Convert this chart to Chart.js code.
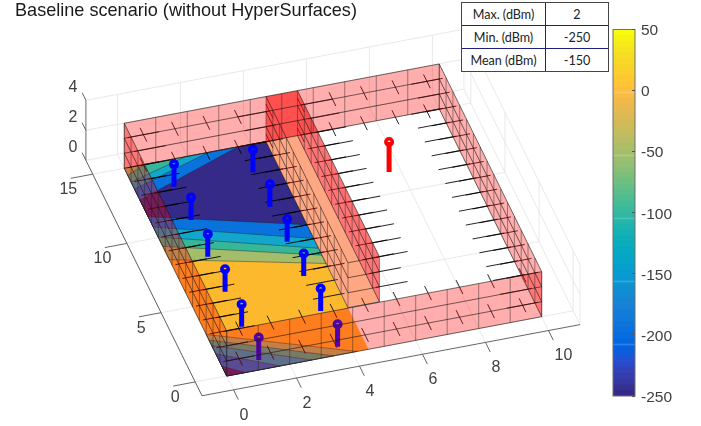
<!DOCTYPE html>
<html>
<head>
<meta charset="utf-8">
<script src="https://cdn.jsdelivr.net/npm/chart.js@4"></script>
<style>
  body { margin: 0; background: #fff; width: 701px; height: 426px; overflow: hidden; position: relative; }
  canvas { position: absolute; }
  #title { position: absolute; left: 15px; top: 0px; font: 18.1px "Liberation Sans", Arial, sans-serif; color: #1a1a1a; white-space: nowrap; }
  #stats { position: absolute; left: 461px; top: 2px; width: 148px; height: 67px; border-collapse: collapse; table-layout: fixed;
           font: 12.6px Lato, sans-serif; color: #222; text-align: center; background: #fff; outline: 1px solid #444; outline-offset: -1px; }
  #stats td { border: 1px solid #1f1f80; padding: 0; height: 22px; }
</style>
</head>
<body>
<canvas id="scene" width="701" height="426" style="left:0;top:0"></canvas>
<canvas id="cbar" width="85" height="386" style="left:610px;top:20px"></canvas>
<div id="title">Baseline scenario (without HyperSurfaces)</div>
<table id="stats">
  <colgroup><col style="width:84px"><col></colgroup>
  <tr><td>Max. (dBm)</td><td>2</td></tr>
  <tr><td>Min. (dBm)</td><td>-250</td></tr>
  <tr><td>Mean (dBm)</td><td>-150</td></tr>
</table>
<script>
// axis ticks
let xTicks = [0, 2, 4, 6, 8, 10];
let yTicks = [0, 5, 10, 15];
let zTicks = [0, 2, 4];
let cbarTicks = [-250, -200, -150, -100, -50, 0, 50];

// room, metres
let roomX = 10, roomY = 15, wallZ = 3;
let partA = 4.5, partB = 5.5, partY = 3;

// antennas, blue ones then the red one
let rxX = [1.16, 1.14, 1.16, 1.16, 1.2, 1.18, 3.64, 3.66, 3.67, 3.68, 3.68, 3.68];
let rxY = [0.66, 3.07, 5.59, 8.12, 10.75, 13.16, 0.55, 3.12, 5.65, 8.12, 10.65, 13.13];
let rxZ = 1.5;
let txX = [7.64], txY = [11.46], txZ = 2;

// level colours of the floor map
let cDark = '#352a87', cBlue = '#0a72dc', cTeal = '#12a6cc', cGreen = '#37b79a', cSage = '#a3bd6a', cYellow = '#fdb92e';

// floor map regions [x, y], painted in this order
let floorBase = [[0, 0], [4.5, 0], [4.5, 15], [0, 15]];
let farSage = [[0, 8.4], [4.5, 6.2], [4.5, 15], [0, 15]];
let farGreen = [[0, 9.36], [4.5, 6.8], [4.5, 15], [0.65, 15], [0, 14.5]];
let farTeal = [[0, 10.03], [4.5, 7.3], [4.5, 15], [1.95, 15], [0, 14]];
let farBlue = [[0, 10.75], [4.5, 8.0], [4.5, 15], [2.67, 15], [0, 13.5]];
let farDark = [[0, 11.5], [4.5, 9.0], [4.5, 15], [3.6, 15], [0, 12.7]];
let nearSage = [[0, 3], [4, 0.1], [4.14, 0], [0, 0]];
let nearGreen = [[0, 2.6], [3.4, 0], [0, 0]];
let nearTeal = [[0, 2.2], [2.7, 0], [0, 0]];
let nearBlue = [[0, 1.6], [1.7, 0], [0, 0]];
let nearDark = [[0, 0.7], [0.6, 0], [0, 0]];

// parula, bottom of the colour bar first
let cbarColors = [
  [.2081,.1663,.5292],[.2116,.1898,.5777],[.2123,.2138,.6270],[.2081,.2386,.6771],[.1959,.2645,.7279],[.1707,.2919,.7792],
  [.1253,.3242,.8303],[.0591,.3598,.8683],[.0117,.3875,.8820],[.0060,.4086,.8828],[.0165,.4266,.8786],[.0329,.4430,.8720],
  [.0498,.4586,.8641],[.0629,.4737,.8554],[.0723,.4887,.8467],[.0779,.5040,.8384],[.0793,.5200,.8312],[.0749,.5375,.8263],
  [.0641,.5570,.8240],[.0488,.5772,.8228],[.0343,.5966,.8199],[.0265,.6137,.8135],[.0239,.6287,.8038],[.0231,.6418,.7913],
  [.0228,.6535,.7768],[.0267,.6642,.7607],[.0384,.6743,.7436],[.0590,.6838,.7254],[.0843,.6928,.7062],[.1133,.7015,.6859],
  [.1453,.7098,.6646],[.1801,.7177,.6424],[.2178,.7250,.6193],[.2586,.7317,.5954],[.3022,.7376,.5712],[.3482,.7424,.5473],
  [.3953,.7459,.5244],[.4420,.7481,.5033],[.4871,.7491,.4840],[.5300,.7491,.4661],[.5709,.7485,.4494],[.6099,.7473,.4337],
  [.6473,.7456,.4188],[.6834,.7435,.4044],[.7184,.7411,.3905],[.7525,.7384,.3768],[.7858,.7356,.3633],[.8185,.7327,.3498],
  [.8507,.7299,.3360],[.8824,.7274,.3217],[.9139,.7258,.3063],[.9450,.7261,.2886],[.9739,.7314,.2666],[.9938,.7455,.2403],
  [.9990,.7653,.2164],[.9955,.7861,.1967],[.9880,.8066,.1794],[.9789,.8271,.1633],[.9697,.8481,.1475],[.9626,.8705,.1309],
  [.9589,.8949,.1132],[.9598,.9218,.0948],[.9661,.9514,.0755],[.9763,.9831,.0538]
];

// orthographic view of the room, screen pixels per metre
function project(x, y, z) {
  return { x: 226.7 + 31.5 * x - 6.83 * y, y: 376 - 5.93 * x - 13.85 * y - 15 * z };
}

let datasets = [];
function addPoly(pts, fill, edge) {
  let d = pts.map(p => project(p[0], p[1], p[2] || 0));
  d.push(d[0]);
  datasets.push({ data: d, showLine: true, pointRadius: 0, fill: 'shape', backgroundColor: fill,
    borderColor: edge || 'rgba(0,0,0,0)', borderWidth: edge ? 0.6 : 0, tension: 0 });
}
function addLines(segs, color, width) {
  let d = [];
  segs.forEach(s => {
    d.push(project(s[0], s[1], s[2]), project(s[3], s[4], s[5]), { x: NaN, y: NaN });
  });
  datasets.push({ data: d, showLine: true, pointRadius: 0, fill: false, borderColor: color, borderWidth: width, tension: 0, spanGaps: false });
}

// background box
let gridSegs = [];
xTicks.forEach(x => {
  gridSegs.push([x, -1, 0, x, 16, 0], [x, 16, 0, x, 16, 4]);
});
yTicks.forEach(y => {
  gridSegs.push([-1, y, 0, 11, y, 0], [11, y, 0, 11, y, 4]);
});
zTicks.forEach(z => {
  gridSegs.push([-1, 16, z, 11, 16, z], [11, 16, z, 11, -1, z]);
});
gridSegs.push([11, 16, 0, 11, 16, 4], [11, -1, 0, 11, -1, 4], [-1, 16, 0, -1, -1, 0]);
addLines(gridSegs, '#e6e6e6', 0.9);

let axisSegs = [[-1, -1, 0, 11, -1, 0], [-1, -1, 0, -1, 16, 0], [-1, 16, 0, -1, 16, 4]];
xTicks.forEach(x => axisSegs.push([x, -1, 0, x, -1.7, 0]));
yTicks.forEach(y => axisSegs.push([-1, y, 0, -1.7, y, 0]));
zTicks.forEach(z => axisSegs.push([-1, 16, z, -1, 16.55, z]));
addLines(axisSegs, '#555', 0.9);

// floor map
addPoly(floorBase, cYellow);
addPoly(farSage, cSage, 'rgba(30,30,30,.7)');
addPoly(farGreen, cGreen, 'rgba(30,30,30,.7)');
addPoly(farTeal, cTeal, 'rgba(30,30,30,.7)');
addPoly(farBlue, cBlue, 'rgba(30,30,30,.7)');
addPoly(farDark, cDark, 'rgba(30,30,30,.7)');
addPoly(nearSage, cSage, 'rgba(30,30,30,.7)');
addPoly(nearGreen, cGreen, 'rgba(30,30,30,.7)');
addPoly(nearTeal, cTeal, 'rgba(30,30,30,.7)');
addPoly(nearBlue, cBlue, 'rgba(30,30,30,.7)');
addPoly(nearDark, cDark, 'rgba(30,30,30,.7)');
addPoly([[partA, partY], [partB, partY], [partB, roomY], [partA, roomY]], '#fff6c2');

// short strokes sticking out of the walls
let strokes = [];
[0.5, 2.5].forEach(z => {
  for (let k = 0; k < roomX; k++) {
    strokes.push([k + 0.5, 0, z, k + 0.5, 1, z], [k + 0.5, roomY - 1, z, k + 0.5, roomY, z]);
  }
  for (let k = 0; k < roomY; k++) {
    strokes.push([0, k + 0.5, z, 1, k + 0.5, z], [roomX - 1, k + 0.5, z, roomX, k + 0.5, z]);
    if (k >= partY) {
      strokes.push([partA - 1, k + 0.5, z, partA, k + 0.5, z], [partB, k + 0.5, z, partB + 1, k + 0.5, z]);
    }
  }
});
addLines(strokes, 'rgba(0,0,0,.95)', 0.9);

// antennas
function addAntennas(xs, ys, h, color) {
  addLines(xs.map((x, i) => [x, ys[i], 0, x, ys[i], h]), color, 5);
  datasets.push({ data: xs.map((x, i) => project(x, ys[i], h)), showLine: false, pointRadius: 3.2, pointBorderWidth: 3.6,
    pointBorderColor: color, pointBackgroundColor: 'rgba(0,0,0,0)' });
}
addAntennas(rxX, rxY, rxZ, '#0000ff');
addAntennas(txX, txY, txZ, '#ff0000');

// translucent walls
let pink = 'rgba(255,0,0,0.32)';
function wallX(x, y0, y1) {
  addPoly([[x, y0, 0], [x, y1, 0], [x, y1, wallZ], [x, y0, wallZ]], pink);
}
function wallY(y, x0, x1) {
  addPoly([[x0, y, 0], [x1, y, 0], [x1, y, wallZ], [x0, y, wallZ]], pink);
}
wallY(roomY, 0, roomX);
wallX(roomX, 0, roomY);
wallY(roomY, partA, partB);
wallX(partB, partY, roomY);
wallX(partA, partY, roomY);
addPoly([[partA, partY, wallZ], [partB, partY, wallZ], [partB, roomY, wallZ], [partA, roomY, wallZ]], pink);
wallY(partY, partA, partB);
wallX(0, 0, roomY);
wallY(0, 0, roomX);

// wall mesh
let meshV = [], meshH = [];
for (let x = 0; x <= roomX; x++) {
  meshV.push([x, 0, 0, x, 0, wallZ], [x, roomY, 0, x, roomY, wallZ]);
}
for (let y = 0; y <= roomY; y++) {
  meshV.push([0, y, 0, 0, y, wallZ], [roomX, y, 0, roomX, y, wallZ]);
  if (y >= partY) {
    meshV.push([partA, y, 0, partA, y, wallZ], [partB, y, 0, partB, y, wallZ]);
  }
}
for (let z = 0; z <= wallZ; z++) {
  meshH.push([0, 0, z, roomX, 0, z], [0, roomY, z, roomX, roomY, z], [0, 0, z, 0, roomY, z], [roomX, 0, z, roomX, roomY, z]);
  meshH.push([partA, partY, z, partA, roomY, z], [partB, partY, z, partB, roomY, z], [partA, partY, z, partB, partY, z]);
}
addLines(meshV, 'rgba(30,30,30,.55)', 0.8);
addLines(meshH, 'rgba(20,20,20,.75)', 0.8);

datasets.forEach((d, i) => { d.order = datasets.length - i; });

// tick labels of the three box axes
let boxLabels = {
  id: 'boxLabels',
  afterDatasetsDraw(chart) {
    let ctx = chart.ctx, sx = chart.scales.x, sy = chart.scales.y;
    ctx.save();
    ctx.font = '16px "Liberation Sans", Arial, sans-serif';
    ctx.fillStyle = '#404040';
    ctx.textBaseline = 'middle';
    function put(text, p, dx, dy) {
      ctx.fillText(text, sx.getPixelForValue(p.x) + dx, sy.getPixelForValue(p.y) + dy);
    }
    ctx.textAlign = 'left';
    xTicks.forEach(x => put(String(x), project(x, -1, 0), 6, 25.5));
    ctx.textAlign = 'right';
    yTicks.forEach(y => put(String(y), project(-1, y, 0), -15.5, 15.5));
    zTicks.forEach(z => put(String(z), project(-1, 16, z), -8.5, -13));
    ctx.restore();
  }
};

new Chart(document.getElementById('scene').getContext('2d'), {
  type: 'scatter',
  data: { datasets: datasets },
  plugins: [boxLabels],
  options: {
    responsive: false,
    animation: false,
    events: [],
    layout: { padding: 0, autoPadding: false },
    plugins: { legend: { display: false }, title: { display: false }, tooltip: { enabled: false } },
    scales: {
      x: { type: 'linear', min: 0, max: 701, display: false },
      y: { type: 'linear', min: 0, max: 426, reverse: true, display: false }
    }
  }
});

// colour bar
let cbarMin = -250, cbarMax = 50;
let cbarStep = (cbarMax - cbarMin) / cbarColors.length;
let cbarSets = cbarColors.map((c, i) => {
  let css = 'rgb(' + c.map(v => Math.round(v * 255)).join(',') + ')';
  return {
    data: [[cbarMin + i * cbarStep, cbarMin + (i + 1) * cbarStep]],
    backgroundColor: css, borderColor: css, borderWidth: 1, borderSkipped: false,
    barPercentage: 1, categoryPercentage: 1, grouped: false
  };
});
let cbarFrame = {
  id: 'cbarFrame',
  afterDatasetsDraw(chart) {
    let a = chart.chartArea, ctx = chart.ctx;
    ctx.save();
    ctx.strokeStyle = '#6e6e6e';
    ctx.lineWidth = 1;
    ctx.strokeRect(a.left, a.top, a.right - a.left, a.bottom - a.top);
    ctx.restore();
  }
};
new Chart(document.getElementById('cbar').getContext('2d'), {
  type: 'bar',
  data: { labels: [''], datasets: cbarSets },
  plugins: [cbarFrame],
  options: {
    responsive: false,
    animation: false,
    events: [],
    layout: { padding: { left: 3, top: 9.5, bottom: 10, right: 0 }, autoPadding: false },
    plugins: { legend: { display: false }, title: { display: false }, tooltip: { enabled: false } },
    scales: {
      x: { display: false },
      y: {
        position: 'right', min: cbarMin, max: cbarMax,
        afterFit(scale) { scale.width = 60; scale.paddingTop = 0; scale.paddingBottom = 0; },
        afterBuildTicks(scale) { scale.ticks = cbarTicks.map(v => ({ value: v })); },
        border: { display: false },
        grid: { drawOnChartArea: false, drawTicks: true, tickLength: -3, tickColor: '#555', z: 1 },
        ticks: { color: '#404040', padding: 9, labelOffset: 1.5, font: { family: '"Liberation Sans", Arial', size: 15.5 } }
      }
    }
  }
});
</script>
</body>
</html>
